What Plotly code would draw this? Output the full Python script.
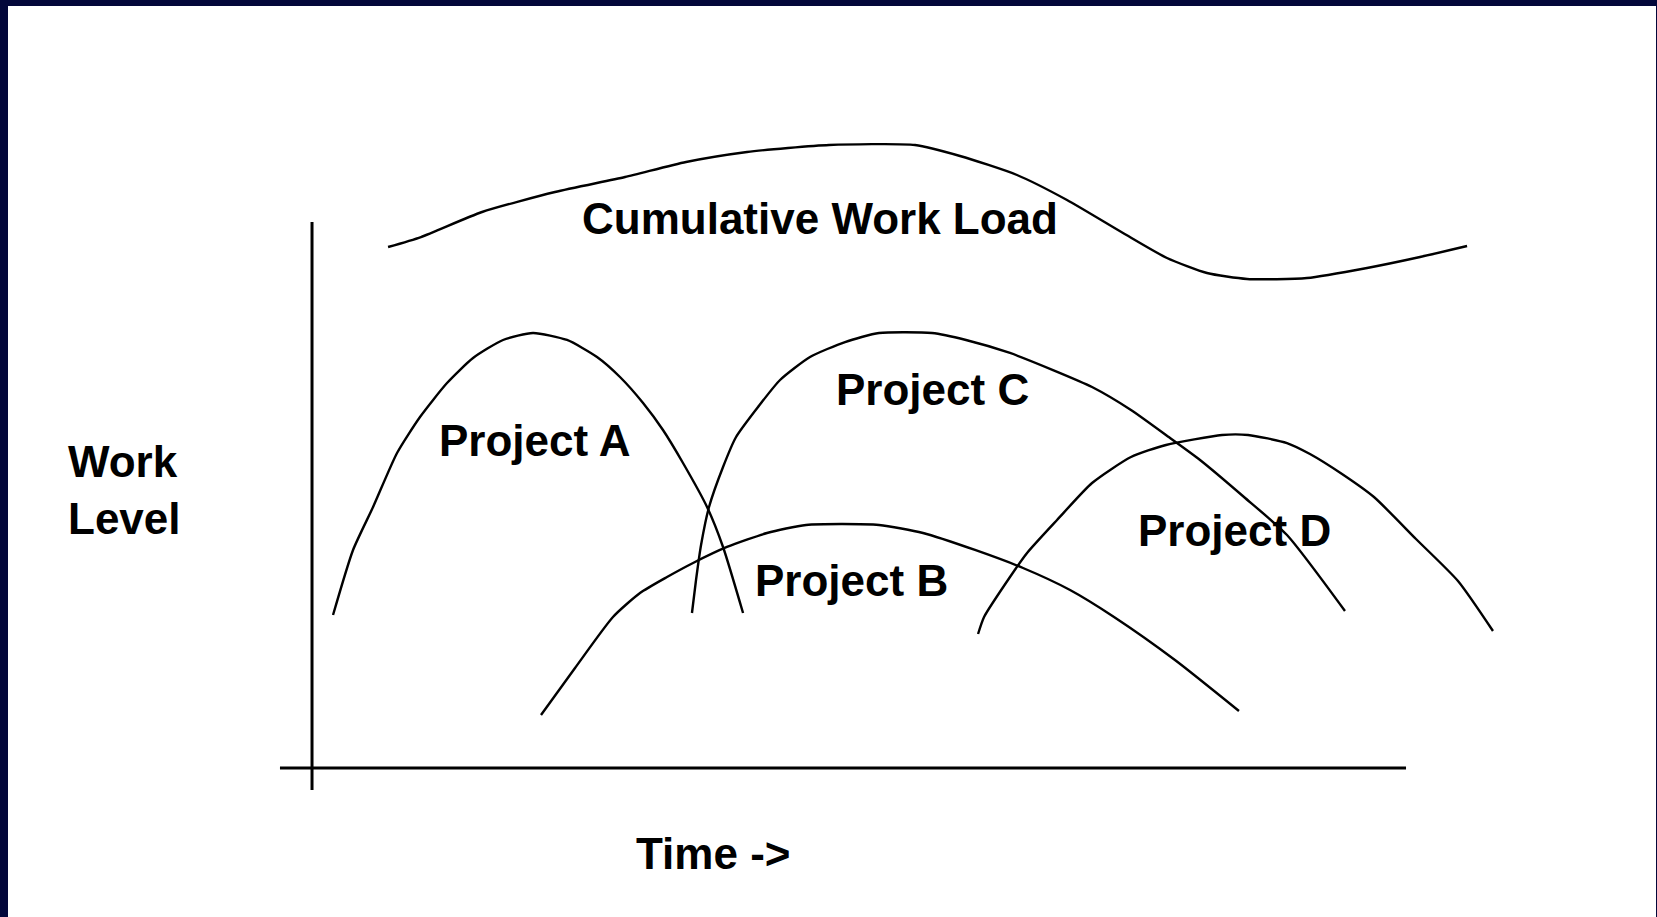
import plotly.graph_objects as go

# Work level curves (time in % of the axis, work level in % of the axis):
cumulative_time = [6.95, 9.96, 15.54, 22.21, 28.61, 34.19, 39.76, 43.51, 47.26, 55.12, 59.23, 64.44,
                   69.01, 74.13, 78.15, 81.81, 85.47, 90.95, 96.44, 101.28, 105.58]
cumulative_level = [95.42, 97.25, 101.83, 105.49, 108.24, 110.99, 112.82, 113.55, 114.10, 114.10, 112.09,
                    108.61, 104.03, 97.99, 93.41, 90.66, 89.56, 89.74, 91.58, 93.59, 95.60]

project_a_time = [1.92, 3.75, 5.58, 7.77, 9.87, 12.34, 14.72, 17.46, 20.20, 23.31, 26.05, 28.15,
                  30.26, 32.08, 33.91, 36.11, 37.57, 39.40]
project_a_level = [28.02, 39.93, 47.80, 57.69, 64.29, 70.51, 75.09, 78.39, 79.67, 78.39, 75.27, 71.61,
                   66.85, 61.90, 55.86, 47.80, 40.48, 28.39]

project_b_time = [20.93, 24.04, 27.51, 29.98, 32.45, 34.83, 37.93, 41.59, 45.16, 51.83, 55.85, 60.60,
                  64.99, 69.29, 73.31, 78.88, 84.73]
project_b_level = [9.71, 18.32, 27.66, 32.05, 34.98, 37.55, 40.48, 43.04, 44.51, 44.51, 43.04, 39.93,
                   36.63, 32.60, 27.66, 19.78, 10.44]

project_c_time = [34.73, 35.10, 35.56, 36.29, 37.57, 38.76, 40.77, 42.78, 45.52, 48.72, 51.83, 56.67,
                  59.78, 63.80, 67.73, 71.30, 74.86, 78.43, 81.17, 85.19, 89.12, 94.42]
project_c_level = [28.39, 34.43, 40.84, 47.80, 55.13, 60.62, 66.12, 71.06, 75.27, 78.02, 79.67, 79.67,
                   78.39, 76.01, 72.89, 69.78, 65.57, 60.44, 56.41, 49.63, 42.67, 28.75]

project_d_time = [60.88, 61.43, 63.80, 65.36, 68.10, 71.30, 74.86, 78.06, 83.18, 85.56, 89.12, 91.22,
                  94.15, 97.07, 100.91, 104.75, 107.95]
project_d_level = [24.54, 27.66, 34.98, 39.38, 45.42, 52.20, 56.96, 59.16, 60.99, 60.99, 59.52, 57.51,
                   53.85, 49.63, 41.94, 34.25, 25.09]

# Hand drawn axes (they overshoot the origin a little):
x_axis_time = [-2.93, 100]
y_axis_level = [-4.03, 100]

# Labels and where they sit (time, level):
labels = ["Cumulative Work Load", "Project A", "Project B", "Project C", "Project D"]
label_time = [46.44, 20.38, 49.27, 56.76, 84.28]
label_level = [100.73, 60.07, 34.25, 69.41, 43.59]

FONT = "Liberation Sans, Arial, sans-serif"
NAVY = "#03073a"

fig = go.Figure()

# Curves:
curves = [(cumulative_time, cumulative_level), (project_a_time, project_a_level),
          (project_b_time, project_b_level), (project_c_time, project_c_level),
          (project_d_time, project_d_level)]
for t, w in curves:
    fig.add_trace(go.Scatter(x=t, y=w, mode="lines",
                             line=dict(color="black", width=2.4, shape="spline", smoothing=0.6),
                             showlegend=False, hoverinfo="skip"))

# Axes lines:
fig.add_trace(go.Scatter(x=x_axis_time, y=[0, 0], mode="lines", line=dict(color="black", width=3),
                         showlegend=False, hoverinfo="skip"))
fig.add_trace(go.Scatter(x=[0, 0], y=y_axis_level, mode="lines", line=dict(color="black", width=3),
                         showlegend=False, hoverinfo="skip"))

# Curve labels:
for text, t, w in zip(labels, label_time, label_level):
    fig.add_annotation(x=t, y=w, text=text, showarrow=False, xanchor="center", yanchor="middle",
                       font=dict(family=FONT, size=44, color="black", weight="bold"))

# Axis titles:
fig.add_annotation(x=-22.49, y=50.92, text="Work<br>Level", showarrow=False, xanchor="left", yanchor="middle",
                   align="left", font=dict(family=FONT, size=44, color="black", weight="bold"))
fig.add_annotation(x=36.65, y=-15.75, text="Time ->", showarrow=False, xanchor="center", yanchor="middle",
                   font=dict(family=FONT, size=44, color="black", weight="bold"))

# Update layout:
fig.update_layout(
    width=1657,
    height=917,
    margin=dict(l=8, r=1, t=6, b=0, pad=0),
    paper_bgcolor=NAVY,
    plot_bgcolor="white",
    xaxis=dict(range=[-27.79, 122.85], visible=False, fixedrange=True),
    yaxis=dict(range=[-27.29, 139.56], visible=False, fixedrange=True),
    showlegend=False,
)

fig.write_html("out.html", config={"displayModeBar": False},
               post_script="document.body.style.margin='0px';document.body.style.overflow='hidden';")
